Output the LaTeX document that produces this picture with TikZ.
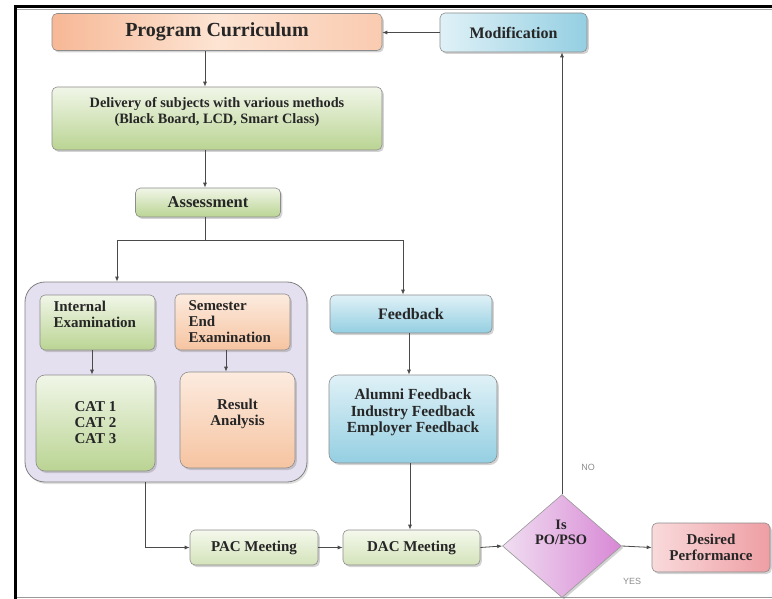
\documentclass[tikz,border=0pt]{standalone}
\usepackage{fontspec}
\setmainfont{Liberation Serif}
\newfontfamily\lblfont{Liberation Sans}
\usetikzlibrary{shapes.geometric,shadows,arrows.meta,calc}
\definecolor{lineC}{HTML}{4A4A4A}
\tikzset{
  bx/.style={draw=black!45, line width=0.6pt, rounded corners=5pt, align=center,
    font=\bfseries\fontsize{15}{16}\selectfont, text=black!85, inner sep=2pt,
    drop shadow={shadow xshift=1.8pt, shadow yshift=-2pt, opacity=0.35}},
  orangebox/.style={bx, top color=orOne, bottom color=orTwo},
  greenbox/.style={bx, top color=grOne, bottom color=grTwo},
  palegreen/.style={bx, top color=pgOne, bottom color=pgTwo},
  peachbox/.style={bx, top color=peOne, bottom color=peTwo},
  bluebox/.style={bx, top color=blOne, bottom color=blTwo},
  arr/.style={draw=lineC, line width=0.8pt, -{Latex[length=5pt,width=4pt]}},
  ln/.style={draw=lineC, line width=0.8pt},
  yn/.style={font=\lblfont\fontsize{9}{10}\selectfont, text=black!45}
}
\definecolor{orOne}{HTML}{FDE4D3}
\definecolor{orTwo}{HTML}{F4A57C}
\definecolor{grOne}{HTML}{F1F6E8}
\definecolor{grTwo}{HTML}{BAD493}
\definecolor{pgOne}{HTML}{F5F8EC}
\definecolor{pgTwo}{HTML}{D3E3BA}
\definecolor{peOne}{HTML}{FCEBDF}
\definecolor{peTwo}{HTML}{F6C4A1}
\definecolor{blOne}{HTML}{E0F1F7}
\definecolor{blTwo}{HTML}{94CFE2}
\definecolor{grpC}{HTML}{E5E0F0}
\definecolor{dmOne}{HTML}{F0DEF1}
\definecolor{dmTwo}{HTML}{D888D5}
\definecolor{dpOne}{HTML}{F9DADB}
\definecolor{dpTwo}{HTML}{EE9EA4}
\begin{document}
\begin{tikzpicture}[x=1pt,y=-1pt]
\useasboundingbox (0,0) rectangle (772,599);
% frame
\draw[black, line width=3pt] (15,6.5) -- (15,599);
\draw[black, line width=2.5pt] (13.5,6.5) -- (772,6.5);
\draw[black!35, line width=0.8pt] (16.5,9.5) -- (772,9.5);
\draw[black!40, line width=0.8pt] (16.5,597) -- (772,597);

% column coordinates
\coordinate (cx) at (205,0);
\coordinate (br) at (205,240);
\coordinate (bl) at (117,240);
\coordinate (brr) at (403,240);
\coordinate (gx) at (145,0);
\coordinate (ix) at (92,0);
\coordinate (sx) at (226,0);

% top column
\node[orangebox, minimum width=330pt, minimum height=37pt, left color=orTwo!70!orOne, right color=orOne!60!orTwo, middle color=orOne] (pc) at (217,32)
  {\fontsize{20}{22}\selectfont Program Curriculum};
\node[greenbox, minimum width=330pt, minimum height=63pt, font=\bfseries\fontsize{14.3}{16}\selectfont] (del) at (217,118.5)
  {Delivery of subjects with various methods\\(Black Board, LCD, Smart Class)\\\phantom{X}};
\node[greenbox, minimum width=145pt, minimum height=29pt, font=\bfseries\fontsize{16.5}{18}\selectfont] (as) at (208,202.5) {Assessment};

% group
\node[draw=black!50, line width=0.8pt, fill=grpC, rounded corners=20pt, minimum width=282pt, minimum height=200pt,
  drop shadow={shadow xshift=1.5pt, shadow yshift=-2pt, opacity=0.25}] (grp) at (166,382) {};
\node[greenbox, minimum width=115pt, minimum height=55pt, align=left, text width=88pt, inner xsep=0pt] (ie) at (97.5,322.5)
  {Internal\\Examination\\\phantom{X}};
\node[peachbox, minimum width=115pt, minimum height=56pt, align=left, text width=88pt, inner xsep=0pt] (se) at (232.5,322)
  {Semester\\End\\Examination};
\node[greenbox, minimum width=119pt, minimum height=96pt, rounded corners=9pt] (cat) at (95.5,423)
  {CAT 1\\CAT 2\\CAT 3};
\node[peachbox, minimum width=115pt, minimum height=96pt, rounded corners=9pt] (ra) at (237.5,420)
  {Result\\Analysis\\\phantom{X}};

% feedback column
\node[bluebox, minimum width=162pt, minimum height=38pt, font=\bfseries\fontsize{16}{17}\selectfont] (fb) at (411,314) {Feedback};
\node[bluebox, minimum width=168pt, minimum height=88pt, rounded corners=9pt, font=\bfseries\fontsize{15.4}{16.5}\selectfont] (al) at (413,419)
  {Alumni Feedback\\Industry Feedback\\Employer Feedback\\\phantom{X}};

% bottom row
\node[palegreen, minimum width=128pt, minimum height=35pt] (pac) at (254,547.5) {PAC Meeting};
\node[palegreen, minimum width=137pt, minimum height=35pt] (dac) at (411.5,547.5) {DAC Meeting};
\node[diamond, draw=black!40, line width=0.6pt, left color=dmOne, right color=dmTwo, minimum width=119pt, minimum height=103pt,
  inner sep=0pt, drop shadow={shadow xshift=1.8pt, shadow yshift=-2pt, opacity=0.35}] (dm) at (562,546) {};
\node[font=\bfseries\fontsize{14.4}{15}\selectfont, text=black!85, align=center] (dmt) at (561,532) {Is\\PO/PSO};
\node[bx, left color=dpOne, right color=dpTwo, minimum width=118pt, minimum height=49pt] (dp) at (711,547.5)
  {Desired\\Performance};
\node[bluebox, left color=blOne, right color=blTwo, minimum width=147pt, minimum height=39pt, font=\bfseries\fontsize{16}{17}\selectfont] (mod) at (513.5,32.5)
  {Modification};

% labels
\node[yn] (no) at (588,467) {NO};
\node[yn] (yes) at (632,581) {YES};

% connectors
\draw[arr] (cx |- pc.south) -- (cx |- del.north);
\draw[arr] (cx |- del.south) -- (cx |- as.north);
\draw[ln] (cx |- as.south) -- (br);
\draw[ln] (bl) -- (brr);
\draw[arr] (bl) -- (bl |- grp.north);
\draw[arr] (brr) -- (brr |- fb.north);
\draw[arr] (ix |- ie.south) -- (ix |- cat.north);
\draw[arr] (sx |- se.south) -- (sx |- ra.north);
\draw[arr] (gx |- grp.south) |- (pac.west);
\draw[arr] (pac.east) -- (dac.west);
\draw[arr] (fb.south -| 409,0) -- (409,0 |- al.north);
\draw[arr] (al.south -| 410,0) -- (410,0 |- dac.north);
\draw[arr] (dac.east) -- (dm.west);
\draw[arr] (dm.east) -- (dp.west);
\draw[arr] (dm.north) -- (dm.north |- mod.south);
\draw[arr] (mod.west) -- (mod.west -| pc.east);
\end{tikzpicture}
\end{document}
